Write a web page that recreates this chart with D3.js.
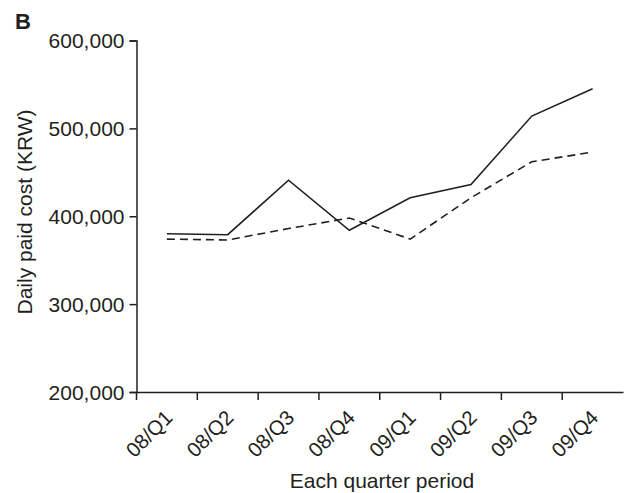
<!DOCTYPE html>
<html>
<head>
<meta charset="utf-8">
<script src="https://cdn.jsdelivr.net/npm/d3@7"></script>
<style>
	html, body { margin: 0; padding: 0; background: #fff; }
	svg text { font-family: "Liberation Sans", Arial, Helvetica, sans-serif; fill: #231f20; }
</style>
</head>
<body>
<svg id="chart" width="627" height="493"></svg>
<script>
// quarters on the x axis
const quarters = ["08/Q1", "08/Q2", "08/Q3", "08/Q4", "09/Q1", "09/Q2", "09/Q3", "09/Q4"];
// solid line
const solidCost = [380000, 379000, 441000, 384000, 421000, 436000, 514000, 545000];
// dashed line
const dashedCost = [374000, 373000, 386000, 398000, 374000, 421000, 462000, 473000];
const yTicks = [200000, 300000, 400000, 500000, 600000];

const svg = d3.select("#chart");
const ink = "#231f20";

const x = d3.scaleBand().domain(quarters).range([136.5, 623]);
const y = d3.scaleLinear().domain([200000, 600000]).range([392, 40.5]);

// axes
const yAxis = svg.append("g")
	.attr("transform", "translate(136.5,0)")
	.call(d3.axisLeft(y).tickValues(yTicks).tickFormat(d3.format(",")).tickSizeOuter(0).tickSize(7).tickPadding(5));
yAxis.selectAll("text").attr("font-size", "21px").attr("dy", "0.34em");

const xAxis = svg.append("g")
	.attr("transform", "translate(0,392)")
	.call(d3.axisBottom(x).tickSize(0).tickSizeOuter(0).tickFormat(""));
// ticks sit on the band edges
xAxis.selectAll(".edge")
	.data(quarters)
	.enter().append("line")
	.attr("class", "edge")
	.attr("x1", d => x(d)).attr("x2", d => x(d))
	.attr("y1", 0).attr("y2", 8)
	.attr("stroke", ink).attr("stroke-width", 1.5);
xAxis.selectAll(".lab")
	.data(quarters)
	.enter().append("text")
	.attr("class", "lab")
	.attr("text-anchor", "end")
	.attr("font-size", "20.5px")
	.attr("transform", d => `translate(${x(d) + x.bandwidth() / 2 + 7},${27}) rotate(-45)`)
	.text(d => d);

svg.selectAll(".domain").attr("stroke", ink).attr("stroke-width", 1.5);
svg.selectAll(".tick line").attr("stroke", ink).attr("stroke-width", 1.5);

// axis titles
svg.append("text")
	.attr("x", 382).attr("y", 488)
	.attr("text-anchor", "middle").attr("font-size", "21px")
	.text("Each quarter period");
svg.append("text")
	.attr("transform", "translate(32,212) rotate(-90)")
	.attr("text-anchor", "middle").attr("font-size", "21px")
	.text("Daily paid cost (KRW)");
svg.append("text")
	.attr("x", 15).attr("y", 29)
	.attr("font-size", "22px").attr("font-weight", "bold")
	.text("B");

// lines
const line = d3.line()
	.x((d, i) => x(quarters[i]) + x.bandwidth() / 2)
	.y(d => y(d));

svg.append("path")
	.datum(dashedCost)
	.attr("fill", "none").attr("stroke", ink).attr("stroke-width", 1.6)
	.attr("stroke-dasharray", "8,5")
	.attr("d", line);
svg.append("path")
	.datum(solidCost)
	.attr("fill", "none").attr("stroke", ink).attr("stroke-width", 1.6)
	.attr("d", line);
</script>
</body>
</html>
